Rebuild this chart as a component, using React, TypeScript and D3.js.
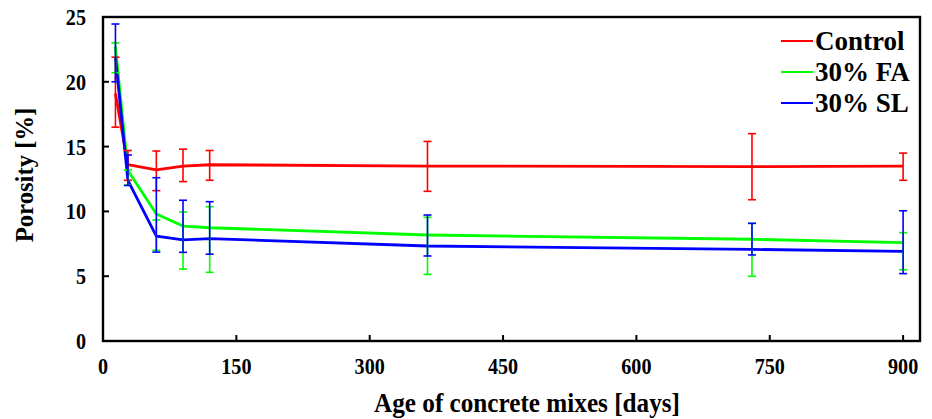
import React from "react";
import * as d3 from "d3";

// Age of concrete (days) at each measurement
const ages = [14, 28, 60, 90, 120, 365, 730, 900];

// Porosity [%] mean values and error bar limits per mix
const controlMean = [19.1, 13.6, 13.2, 13.5, 13.6, 13.5, 13.45, 13.5];
const controlLow = [16.5, 12.4, 11.6, 12.3, 12.4, 11.55, 10.9, 12.4];
const controlHigh = [21.9, 14.7, 14.66, 14.8, 14.7, 15.4, 16.0, 14.5];

const faMean = [22.7, 13.15, 9.8, 8.87, 8.74, 8.18, 7.85, 7.59];
const faLow = [20.7, 12.04, 7.0, 5.55, 5.3, 5.14, 4.99, 5.5];
const faHigh = [23.0, 13.2, 9.34, 9.96, 10.36, 9.54, 9.08, 8.36];

const slMean = [21.9, 12.4, 8.1, 7.8, 7.9, 7.33, 7.07, 6.92];
const slLow = [20.0, 12.0, 6.86, 6.84, 6.7, 6.56, 6.64, 5.2];
const slHigh = [24.46, 14.35, 12.6, 10.86, 10.75, 9.72, 9.08, 10.05];

const seriesNames = ["Control", "30% FA", "30% SL"];
const seriesColors = ["#ff0000", "#00ff00", "#0000ff"];

const xTicks = [0, 150, 300, 450, 600, 750, 900];
const yTicks = [0, 5, 10, 15, 20, 25];

const xTitle = "Age of concrete mixes [days]";
const yTitle = "Porosity [%]";

const W = 932;
const H = 419;
const plot = { left: 103, right: 920, top: 17, bottom: 341 };
const font = "Liberation Serif, Times New Roman, serif";

// Bold serif text, narrowed horizontally
function Label(props: {
  x: number;
  y: number;
  size: number;
  sx?: number;
  anchor?: "start" | "middle" | "end";
  rotate?: number;
  children: React.ReactNode;
}) {
  const { x, y, size, sx = 1, anchor = "start", rotate = 0, children } = props;
  return (
    <text
      transform={`translate(${x},${y}) rotate(${rotate}) scale(${sx},1)`}
      textAnchor={anchor}
      fontFamily={font}
      fontWeight="bold"
      fontSize={size}
      fill="#000"
    >
      {children}
    </text>
  );
}

export default function App() {
  const x = d3.scaleLinear().domain([0, 919]).range([plot.left, plot.right]);
  const y = d3.scaleLinear().domain([0, 25]).range([plot.bottom, plot.top]);

  const series = [
    { mean: controlMean, low: controlLow, high: controlHigh },
    { mean: faMean, low: faLow, high: faHigh },
    { mean: slMean, low: slLow, high: slHigh },
  ].map((s, i) => ({ ...s, name: seriesNames[i], color: seriesColors[i] }));

  const line = d3
    .line<number>()
    .x((_, i) => x(ages[i]))
    .y((d) => y(d));

  const cap = 4;

  return (
    <svg width={W} height={H} style={{ position: "absolute", left: 0, top: 0, background: "#fff" }}>
      {/* data lines */}
      {series.map((s) => (
        <path key={s.name} d={line(s.mean) || ""} fill="none" stroke={s.color} strokeWidth={2.8} strokeLinejoin="round" />
      ))}
      {/* error bars */}
      {series.map((s) => (
        <g key={s.name + "-err"} stroke={s.color} strokeWidth={1.6}>
          {ages.map((a, i) => {
            const cx = x(a);
            return (
              <g key={i}>
                <line x1={cx} x2={cx} y1={y(s.low[i])} y2={y(s.high[i])} />
                <line x1={cx - cap} x2={cx + cap} y1={y(s.low[i])} y2={y(s.low[i])} />
                <line x1={cx - cap} x2={cx + cap} y1={y(s.high[i])} y2={y(s.high[i])} />
              </g>
            );
          })}
        </g>
      ))}

      {/* frame */}
      <rect
        x={plot.left}
        y={plot.top}
        width={plot.right - plot.left}
        height={plot.bottom - plot.top}
        fill="none"
        stroke="#000"
        strokeWidth={2.4}
      />
      {/* inward ticks */}
      {xTicks.map((t) => (
        <line key={"xt" + t} x1={x(t)} x2={x(t)} y1={plot.bottom} y2={plot.bottom - 6} stroke="#000" strokeWidth={2} />
      ))}
      {yTicks.map((t) => (
        <line key={"yt" + t} x1={plot.left} x2={plot.left + 6} y1={y(t)} y2={y(t)} stroke="#000" strokeWidth={2} />
      ))}

      {/* tick labels */}
      {xTicks.map((t) => (
        <Label key={"xl" + t} x={x(t)} y={374} size={24} sx={0.84} anchor="middle">
          {t}
        </Label>
      ))}
      {yTicks.map((t) => (
        <Label key={"yl" + t} x={86} y={y(t) + 8} size={24} sx={0.84} anchor="end">
          {t}
        </Label>
      ))}

      {/* axis titles */}
      <Label x={527} y={412} size={28} sx={0.9} anchor="middle">
        {xTitle}
      </Label>
      <Label x={33} y={175} size={26} sx={0.95} anchor="middle" rotate={-90}>
        {yTitle}
      </Label>

      {/* legend */}
      <g>
        {series.map((s, i) => {
          const ly = 41 + i * 31;
          return (
            <g key={"lg" + s.name}>
              <line x1={781} x2={813} y1={ly} y2={ly} stroke={s.color} strokeWidth={2} />
              <Label x={815} y={ly + 9} size={27}>
                {s.name}
              </Label>
            </g>
          );
        })}
      </g>
    </svg>
  );
}
